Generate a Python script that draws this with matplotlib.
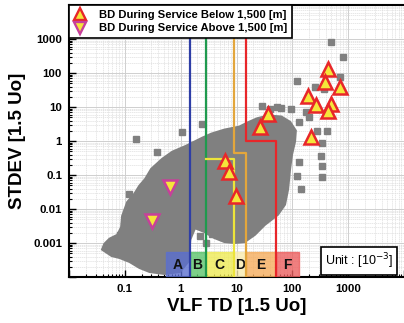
import numpy as np
import matplotlib
matplotlib.use("Agg")
import matplotlib.pyplot as plt
from matplotlib.patches import Rectangle
from matplotlib.lines import Line2D

# ---------------- data (log10 exponents) ----------------
# outline of the dense gray cloud of measured cables
cloud_outline_log_td = [-1.357, -1.268, -1.125, -1.054, -1.036, -0.946, -0.821, -0.732, -0.625,
                        -0.518, -0.321, -0.143, 0.107, 0.250, 0.393, 0.554, 0.786, 1.054, 1.196,
                        1.375, 1.500, 1.650, 1.800, 1.950, 2.050, 2.036, 1.982, 1.946, 1.911,
                        1.857, 1.732, 1.500, 1.321, 1.143, 0.964, 0.786, 0.607, 0.429, 0.250,
                        0.161, 0.125, -0.018, -0.286, -0.554, -0.732, -0.911, -1.089, -1.232, -1.393]
cloud_outline_log_stdev = [-3.038, -2.891, -2.774, -2.538, -2.215, -1.803, -1.568, -1.332, -1.126,
                           -0.832, -0.538, -0.332, -0.156, -0.038, 0.079, 0.197, 0.315, 0.403, 0.521,
                           0.650, 0.700, 0.720, 0.700, 0.550, 0.300, -0.009, -0.391, -0.832, -1.421,
                           -1.862, -2.156, -2.450, -2.744, -2.950, -2.979, -2.950, -2.832, -2.656, -2.538,
                           -2.891, -3.538, -3.832, -3.891, -3.832, -3.715, -3.538, -3.421, -3.362, -3.185]

# isolated gray squares
gray_log_td = [-0.804, -0.429, 0.018, 0.375, 2.696, 2.911, 2.089, 2.857, 2.571, 2.446, 2.625,
               2.536, 1.464, 1.732, 1.800, 1.982, 2.125, 2.518, 2.536, 2.536, 2.125, 2.089,
               2.161, 1.804, 0.339, 0.554, 0.446, -0.071, -1.000, -0.607, -0.929, -1.089,
               -0.911, 2.400, 2.300, 1.600, 2.250]
gray_log_stdev = [0.050, -0.332, 0.256, 0.491, 2.903, 2.462, 1.756, 1.874, 1.521, 0.285, 0.285,
                  -0.068, 1.021, 0.991, 0.960, 0.932, 0.550, -0.450, -0.744, -1.068, -0.626, -1.038,
                  -1.421, -1.509, -2.803, -2.744, -3.009, -3.303, -2.244, -1.332, -1.568, -2.774,
                  -2.685, 1.600, 0.700, 0.930, 0.850]

# breakdowns during service
below_td = [440, 388, 719, 193, 269, 497, 440, 37.2, 26.9, 218, 6.1, 7.2, 9.6]
below_stdev = [128, 53, 38, 20.7, 11.2, 12, 7.5, 6.1, 2.53, 1.29, 0.253, 0.12, 0.0237]
above_td = [0.637, 0.303]
above_stdev = [0.0435, 0.00435]

# class boundaries
zone_letters = ["A", "B", "C", "D", "E", "F"]
zone_edges = [0.556, 1.44, 2.8, 9.0, 15.0, 50.0, 129.0]
zone_colors = ["#5b6fcf", "#5cc46c", "#eeea55", "#f8ebb0", "#f5ad5c", "#ec5f5f"]
line_blue_td = 1.44
line_green_td = 2.8
yellow_path_td = [2.8, 9.0, 9.0]
yellow_path_stdev = [0.3, 0.3, 1e-4]
orange_path_td = [9.0, 9.0, 15.0, 15.0]
orange_path_stdev = [1e4, 0.43, 0.43, 1e-4]
red_path_td = [15.0, 15.0, 50.0, 50.0]
red_path_stdev = [1e4, 1.0, 1.0, 1e-4]

x_ticks = [0.01, 0.1, 1, 10, 100, 1000, 10000]
x_ticklabels = ["", "0.1", "1", "10", "100", "1000", ""]
y_ticks = [1e-4, 1e-3, 1e-2, 1e-1, 1, 10, 100, 1000, 1e4]
y_ticklabels = ["", "0.001", "0.01", "0.1", "1", "10", "100", "1000", ""]

# ---------------- figure ----------------
fig = plt.figure(figsize=(4.04, 3.23), dpi=100)
ax = fig.add_axes([0.1708, 0.1424, 0.8292, 0.842])
ax.set_xscale("log")
ax.set_yscale("log")
ax.set_xlim(0.01, 10000)
ax.set_ylim(1e-4, 1e4)

gray = "#808080"
ax.fill(np.power(10.0, cloud_outline_log_td), np.power(10.0, cloud_outline_log_stdev),
        facecolor=gray, edgecolor=gray, lw=2.5, zorder=2)
ax.plot(np.power(10.0, gray_log_td), np.power(10.0, gray_log_stdev), ls="none",
        marker="s", ms=4.2, color=gray, zorder=2)

# zone boxes
box_top = 5.3e-4
for i, letter in enumerate(zone_letters):
    x0, x1 = zone_edges[i], zone_edges[i + 1]
    ax.add_patch(Rectangle((x0, 1e-4), x1 - x0, box_top - 1e-4, facecolor=zone_colors[i],
                           edgecolor=zone_colors[i], alpha=0.8, lw=1, zorder=3))
    ax.text(np.sqrt(x0 * x1), np.sqrt(1e-4 * box_top) * 0.95, letter, ha="center", va="center",
            fontsize=10, fontweight="bold", family=["Liberation Sans", "DejaVu Sans"],
            color="#111111", zorder=4)

lw = 1.6
ax.plot([line_blue_td, line_blue_td], [1e-4, 1e4], color="#2e3ea6", lw=lw, zorder=5)
ax.plot([line_green_td, line_green_td], [1e-4, 1e4], color="#1f9a4e", lw=lw, zorder=5)
ax.plot(orange_path_td, orange_path_stdev, color="#e3a63c", lw=lw, zorder=5)
ax.plot(yellow_path_td, yellow_path_stdev, color="#ece43a", lw=lw, zorder=5)
ax.plot(red_path_td, red_path_stdev, color="#e8262a", lw=lw, zorder=5)

tri_ms = 10
ax.plot(below_td, below_stdev, ls="none", marker="^", ms=tri_ms, mfc="#f5e63a", mec="#e8262a",
        mew=1.8, zorder=6)
ax.plot(above_td, above_stdev, ls="none", marker="v", ms=tri_ms, mfc="#f5e63a", mec="#c8409a",
        mew=1.8, zorder=6)

# grid
ax.grid(which="major", color="#cfcfcf", lw=0.7, ls="-", zorder=0)
ax.grid(which="minor", color="#dedede", lw=0.5, ls=(0, (2, 1)), zorder=0)
ax.set_axisbelow(True)

ax.set_xticks(x_ticks)
ax.set_xticklabels(x_ticklabels)
ax.set_yticks(y_ticks)
ax.set_yticklabels(y_ticklabels)
for lab in ax.get_xticklabels() + ax.get_yticklabels():
    lab.set_fontfamily(["Liberation Sans", "DejaVu Sans"])
    lab.set_fontweight("bold")
    lab.set_fontsize(8.2)
ax.tick_params(which="major", direction="in", length=5, width=1.0, top=False, right=False, pad=5)
ax.tick_params(which="minor", direction="in", length=2.5, width=0.8, top=False, right=False)
ax.xaxis.set_minor_formatter(matplotlib.ticker.NullFormatter())
ax.yaxis.set_minor_formatter(matplotlib.ticker.NullFormatter())
for s in ["left", "bottom", "top"]:
    ax.spines[s].set_linewidth(1.5)
ax.spines["right"].set_visible(False)

label_font = ["Liberation Sans Narrow", "Liberation Sans", "DejaVu Sans"]
ax.set_xlabel("VLF TD [1.5 Uo]", family=label_font, fontweight="bold", fontsize=13.5, labelpad=3)
ax.set_ylabel("STDEV [1.5 Uo]", family=label_font, fontweight="bold", fontsize=13.5, labelpad=5)

# legend
handles = [Line2D([], [], ls="none", marker="^", ms=8.5, mfc="#f5e63a", mec="#e8262a", mew=1.7),
           Line2D([], [], ls="none", marker="v", ms=8.5, mfc="#f5e63a", mec="#c8409a", mew=1.7)]
leg = ax.legend(handles, ["BD During Service Below 1,500 [m]", "BD During Service Above 1,500 [m]"],
                loc="upper left", bbox_to_anchor=(0, 1), borderaxespad=0, frameon=True,
                fancybox=False, framealpha=1, edgecolor="black", handlelength=1.2,
                handletextpad=1.1, borderpad=0.4, labelspacing=0.35,
                prop=dict(family=["Liberation Sans", "DejaVu Sans"], weight="bold", size=8.1))
leg.get_frame().set_linewidth(1.2)
leg.set_zorder(10)

ax.text(0.866, 0.059, "Unit : [10$^{-3}$]", transform=ax.transAxes, ha="center", va="center",
        fontsize=9, family=["Liberation Sans", "DejaVu Sans"], zorder=10,
        bbox=dict(boxstyle="square,pad=0.35", facecolor="white", edgecolor="black", lw=1.2))

fig.savefig("out.png", dpi=100)
